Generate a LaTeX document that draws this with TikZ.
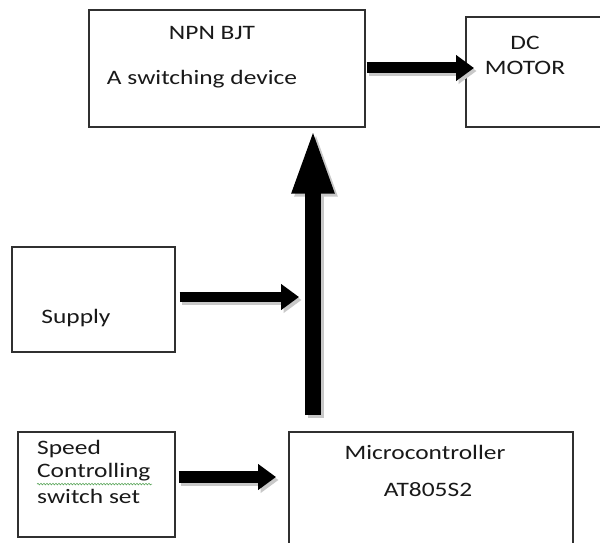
\documentclass[tikz,border=0pt]{standalone}
\usepackage{fontspec}
\setmainfont{Carlito}[FakeStretch=1.24]
\usetikzlibrary{arrows.meta,decorations.pathmorphing}
\definecolor{boxline}{HTML}{303030}
\definecolor{shade}{HTML}{C8C8C8}
\definecolor{wavy}{HTML}{5FA85F}
\begin{document}
\begin{tikzpicture}[x=1pt,y=-1pt,
  blk/.style={draw=boxline,line width=1.3pt,fill=white,inner sep=0pt},
  lbl/.style={inner sep=0pt,font=\fontsize{20.5}{24}\selectfont,text=black!90},
  barrow/.style={draw=black,line width=#1,-{Triangle[length=18pt,width=25pt]}},
  barrow/.default=11pt,
  sarrow/.style={draw=shade,line width=#1,-{Triangle[length=18pt,width=25pt]},transform canvas={shift={(2.5pt,-3pt)}}},
  sarrow/.default=11pt,
  varrow/.style={draw=black,line width=16pt,-{Triangle[length=66pt,width=38pt]}},
  svarrow/.style={draw=shade,line width=16pt,-{Triangle[length=66pt,width=38pt]},transform canvas={shift={(3pt,-3pt)}}}
]
\useasboundingbox (0,0) rectangle (600,543);
\fill[white] (0,0) rectangle (600,543);

% boxes
\node[blk,minimum width=276pt,minimum height=117pt] (npn) at (227,68.5) {};
\node[blk,minimum width=160pt,minimum height=110pt] (motor) at (546,72) {};
\node[blk,minimum width=163pt,minimum height=105pt] (supply) at (93.5,299.5) {};
\node[blk,minimum width=157pt,minimum height=105pt] (speed) at (96.5,484.5) {};
\node[blk,minimum width=284pt,minimum height=130pt] (micro) at (431,497) {};

% texts
\node[lbl] (t1) at (212,33) {NPN BJT};
\node[lbl] (t2) at (202,79) {A switching device};
\node[lbl] (t3) at (525,43) {DC};
\node[lbl] (t4) at (525,68) {MOTOR};
\node[lbl] (t5) at (76,318) {Supply};
\node[lbl,anchor=west] (t6) at (37,449) {Speed};
\node[lbl,anchor=west] (t7) at (37,472) {Controlling};
\node[lbl,anchor=west] (t8) at (37,496) {switch set};
\node[lbl] (t9) at (425,452) {Microcontroller};
\node[lbl] (t10) at (428,490) {AT805S2};
\draw[wavy,line width=0.6pt,decorate,decoration={snake,amplitude=0.8pt,segment length=3pt}]
  (t7.south west) ++(0,3) -- ++(115,0);

% connector end points
\coordinate (vbot) at (313,415);
\coordinate (stip) at (299,297);
\coordinate (mtip) at (474,68);
\coordinate (ctip) at (276,477);

% shadows
\draw[svarrow] (vbot) -- (vbot |- npn.south);
\draw[sarrow] ([xshift=1pt]npn.east |- mtip) -- (mtip);
\draw[sarrow=10pt] ([xshift=4pt]supply.east |- stip) -- (stip);
\draw[sarrow=12pt] ([xshift=3pt]speed.east |- ctip) -- (ctip);

% arrows
\draw[varrow] (vbot) -- (vbot |- npn.south);
\draw[barrow] ([xshift=1pt]npn.east |- mtip) -- (mtip);
\draw[barrow=10pt] ([xshift=4pt]supply.east |- stip) -- (stip);
\draw[barrow=12pt] ([xshift=3pt]speed.east |- ctip) -- (ctip);
\end{tikzpicture}
\end{document}
